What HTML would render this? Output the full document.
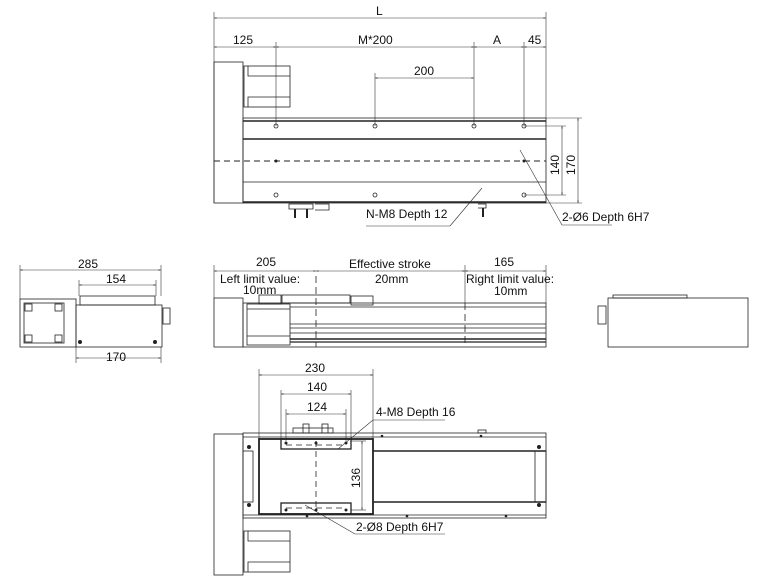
<!DOCTYPE html>
<html><head><meta charset="utf-8"><style>
body{margin:0;background:#fff}
svg{display:block}
text{font-family:"Liberation Sans",sans-serif;font-size:12px;fill:#111}
</style></head><body>
<svg width="765" height="585" viewBox="0 0 765 585" xmlns="http://www.w3.org/2000/svg">
<defs>
<marker id="a" viewBox="0 0 10 10" refX="10" refY="5" markerWidth="6" markerHeight="4" orient="auto-start-reverse"><path d="M0,2L10,5L0,8z" fill="#333"/></marker>
</defs>
<g stroke="#333" stroke-width="0.6" fill="none">
<line x1="214" y1="12" x2="214" y2="203"/><line x1="546" y1="12" x2="546" y2="118"/>
<line x1="214" y1="18" x2="546" y2="18" marker-start="url(#a)" marker-end="url(#a)"/>
<line x1="214" y1="47" x2="276" y2="47" marker-start="url(#a)" marker-end="url(#a)"/>
<line x1="276" y1="47" x2="474" y2="47" marker-start="url(#a)" marker-end="url(#a)"/>
<line x1="474" y1="47" x2="524" y2="47" marker-start="url(#a)" marker-end="url(#a)"/>
<line x1="524" y1="47" x2="546" y2="47" marker-start="url(#a)" marker-end="url(#a)"/>
<line x1="276" y1="42" x2="276" y2="126"/><line x1="474" y1="42" x2="474" y2="126"/><line x1="524" y1="42" x2="524" y2="126"/>
<line x1="375" y1="73" x2="375" y2="126"/>
<line x1="375" y1="78" x2="474" y2="78" marker-start="url(#a)" marker-end="url(#a)"/>
<line x1="524" y1="126" x2="566" y2="126"/><line x1="524" y1="195" x2="566" y2="195"/>
<line x1="546" y1="118" x2="582" y2="118"/><line x1="546" y1="203" x2="582" y2="203"/>
<line x1="562" y1="126" x2="562" y2="195" marker-start="url(#a)" marker-end="url(#a)"/>
<line x1="578" y1="118" x2="578" y2="203" marker-start="url(#a)" marker-end="url(#a)"/>
<line x1="482" y1="188" x2="450" y2="226"/><line x1="450" y1="226" x2="366" y2="226"/>
<line x1="520" y1="150" x2="562" y2="225"/><line x1="562" y1="225" x2="612" y2="225"/>
</g>
<g stroke="#222" fill="none">
<rect x="214" y="62" width="29" height="141" stroke-width="0.8"/>
<rect x="244" y="66" width="46" height="41" stroke-width="0.8"/>
<path d="M248,66V76H290M248,107V97H290" stroke-width="0.8"/>
<rect x="243" y="118" width="303" height="85" stroke-width="0.8"/>
<line x1="243" y1="121" x2="546" y2="121" stroke-width="1.6"/>
<line x1="243" y1="139" x2="546" y2="139" stroke-width="1.6"/>
<line x1="243" y1="182" x2="546" y2="182" stroke-width="0.8"/>
<line x1="243" y1="202" x2="546" y2="202" stroke-width="1.6"/>
<line x1="214" y1="161" x2="546" y2="161" stroke-width="0.9" stroke-dasharray="6,4"/>
<g stroke-width="0.8"><circle cx="276" cy="126" r="2"/><circle cx="375" cy="126" r="2"/><circle cx="474" cy="126" r="2"/><circle cx="524" cy="126" r="2"/>
<circle cx="276" cy="195" r="2"/><circle cx="375" cy="195" r="2"/><circle cx="524" cy="195" r="2"/></g>
<path d="M289,204h24v5h-24zM303,204h10v5M315,204h14v6h-14M478,204h8v4h-8" stroke-width="0.8"/>
<path d="M295,209v9M307,209v9M483,208v9" stroke-width="2"/>
</g>
<circle cx="276" cy="161" r="1.5" fill="#222"/><circle cx="524" cy="161" r="1.5" fill="#222"/>
<text x="376" y="15">L</text><text x="233" y="44">125</text><text x="358" y="44">M*200</text><text x="493" y="44">A</text><text x="528" y="44">45</text>
<text x="414" y="75">200</text>
<text x="366" y="218">N-M8 Depth 12</text><text x="562" y="221">2-Ø6 Depth 6H7</text>
<text transform="translate(559,175) rotate(-90)">140</text><text transform="translate(575,175) rotate(-90)">170</text>

<g stroke="#333" stroke-width="0.6" fill="none">
<line x1="20" y1="265" x2="20" y2="299"/><line x1="161" y1="265" x2="161" y2="296"/>
<line x1="20" y1="270" x2="161" y2="270" marker-start="url(#a)" marker-end="url(#a)"/>
<line x1="79" y1="280" x2="79" y2="296"/><line x1="156" y1="280" x2="156" y2="296"/>
<line x1="79" y1="285" x2="156" y2="285" marker-start="url(#a)" marker-end="url(#a)"/>
<line x1="76" y1="347" x2="76" y2="363"/><line x1="161" y1="347" x2="161" y2="363"/>
<line x1="76" y1="358" x2="161" y2="358" marker-start="url(#a)" marker-end="url(#a)"/>
</g>
<g stroke="#222" stroke-width="0.8" fill="none">
<rect x="20" y="299" width="56" height="48"/><rect x="24" y="303" width="40" height="40"/>
<rect x="25" y="304" width="7" height="7"/><rect x="55" y="304" width="7" height="7"/><rect x="25" y="335" width="7" height="7"/><rect x="55" y="335" width="7" height="7"/>
<rect x="76" y="305" width="86" height="42"/><rect x="80" y="296" width="75" height="9"/>
<rect x="163" y="308" width="7" height="16"/>
</g>
<circle cx="80" cy="342" r="2" fill="#222"/><circle cx="155" cy="342" r="2" fill="#222"/>
<text x="78" y="268">285</text><text x="106" y="283">154</text><text x="106" y="361">170</text>

<g stroke="#333" stroke-width="0.6" fill="none">
<line x1="214" y1="265" x2="214" y2="298"/><line x1="546" y1="265" x2="546" y2="303"/>
<line x1="214" y1="271" x2="316" y2="271" marker-start="url(#a)" marker-end="url(#a)"/>
<line x1="316" y1="271" x2="465" y2="271" marker-start="url(#a)" marker-end="url(#a)"/>
<line x1="465" y1="271" x2="546" y2="271" marker-start="url(#a)" marker-end="url(#a)"/>
<line x1="465" y1="265" x2="465" y2="303"/>
</g>
<g stroke="#222" stroke-width="0.8" fill="none">
<rect x="214" y="298" width="29" height="49"/>
<rect x="243" y="303" width="303" height="44"/>
<rect x="247" y="304" width="43" height="41"/>
<path d="M247,309H290M247,336H290"/>
<rect x="259" y="295" width="22" height="9"/><rect x="282" y="295" width="68" height="8"/><rect x="351" y="296" width="22" height="9"/>
<path d="M290,307H546M290,324H546M290,328H546M290,333H546" />
<path d="M290,339H546" stroke-width="1.6"/>
<path d="M290,342H546" stroke-width="1.2"/>
<path d="M316,276V347M465,303V347" stroke-dasharray="7,4"/>
</g>
<text x="256" y="266">205</text><text x="220" y="283">Left limit value:</text><text x="243" y="294">10mm</text>
<text x="349" y="268">Effective stroke</text><text x="375" y="283">20mm</text>
<text x="494" y="266">165</text><text x="466" y="283">Right limit value:</text><text x="494" y="295">10mm</text>

<g stroke="#222" stroke-width="0.8" fill="none">
<rect x="608" y="298" width="140" height="49"/><rect x="613" y="295" width="74" height="3"/>
<rect x="598" y="306" width="8" height="18"/>
</g>

<g stroke="#333" stroke-width="0.6" fill="none">
<line x1="259" y1="369" x2="259" y2="439"/><line x1="373" y1="369" x2="373" y2="439"/>
<line x1="259" y1="375" x2="373" y2="375" marker-start="url(#a)" marker-end="url(#a)"/>
<line x1="281" y1="390" x2="281" y2="439"/><line x1="351" y1="390" x2="351" y2="439"/>
<line x1="281" y1="394" x2="351" y2="394" marker-start="url(#a)" marker-end="url(#a)"/>
<line x1="286" y1="409" x2="286" y2="441"/><line x1="346" y1="409" x2="346" y2="441"/>
<line x1="286" y1="414" x2="346" y2="414" marker-start="url(#a)" marker-end="url(#a)"/>
<line x1="351" y1="441" x2="366" y2="441"/><line x1="351" y1="510" x2="366" y2="510"/>
<line x1="362" y1="441" x2="362" y2="510" marker-start="url(#a)" marker-end="url(#a)"/>
<line x1="338" y1="449" x2="373" y2="420"/><line x1="373" y1="420" x2="445" y2="420"/>
<line x1="305" y1="505" x2="355" y2="534"/><line x1="355" y1="534" x2="445" y2="534"/>
</g>
<g stroke="#222" stroke-width="0.8" fill="none">
<rect x="214" y="434" width="29" height="141"/>
<rect x="244" y="531" width="46" height="41"/><path d="M248,531V541H290M248,572V562H290"/>
<rect x="243" y="433" width="303" height="85"/>
<path d="M243,437H546M243,515H546"/>
<path d="M373,451H546M373,502H546" stroke-width="1.6"/>
<rect x="243" y="451" width="10" height="51"/><rect x="535" y="451" width="11" height="51"/>
<rect x="259" y="439" width="114" height="75" stroke-width="1.8"/>
<rect x="281" y="439" width="70" height="10" stroke-width="1.3"/><rect x="281" y="503" width="70" height="11" stroke-width="1.3"/>
<path d="M286,445H346M286,508H346M316,441V510" stroke-dasharray="6,4"/>
<rect x="293" y="428" width="40" height="5"/><rect x="303" y="424" width="6" height="9"/><rect x="322" y="424" width="6" height="9"/>
<rect x="478" y="430" width="8" height="3"/>
</g>
<g fill="#222">
<circle cx="286" cy="443" r="1.5"/><circle cx="316" cy="443" r="1.5"/><circle cx="346" cy="443" r="1.5"/>
<circle cx="286" cy="510" r="1.5"/><circle cx="316" cy="510" r="1.5"/><circle cx="346" cy="510" r="1.5"/>
<circle cx="249" cy="447" r="2"/><circle cx="249" cy="505" r="2"/><circle cx="539" cy="447" r="2"/><circle cx="539" cy="505" r="2"/>
<circle cx="382" cy="436" r="1.3"/><circle cx="481" cy="436" r="1.3"/>
<circle cx="307" cy="516" r="1.3"/><circle cx="407" cy="516" r="1.3"/><circle cx="506" cy="516" r="1.3"/>
</g>
<text x="305" y="372">230</text><text x="307" y="391">140</text><text x="307" y="411">124</text>
<text x="376" y="416">4-M8 Depth 16</text><text x="356" y="531">2-Ø8 Depth 6H7</text>
<text transform="translate(360,488) rotate(-90)">136</text>
</svg>
</body></html>
